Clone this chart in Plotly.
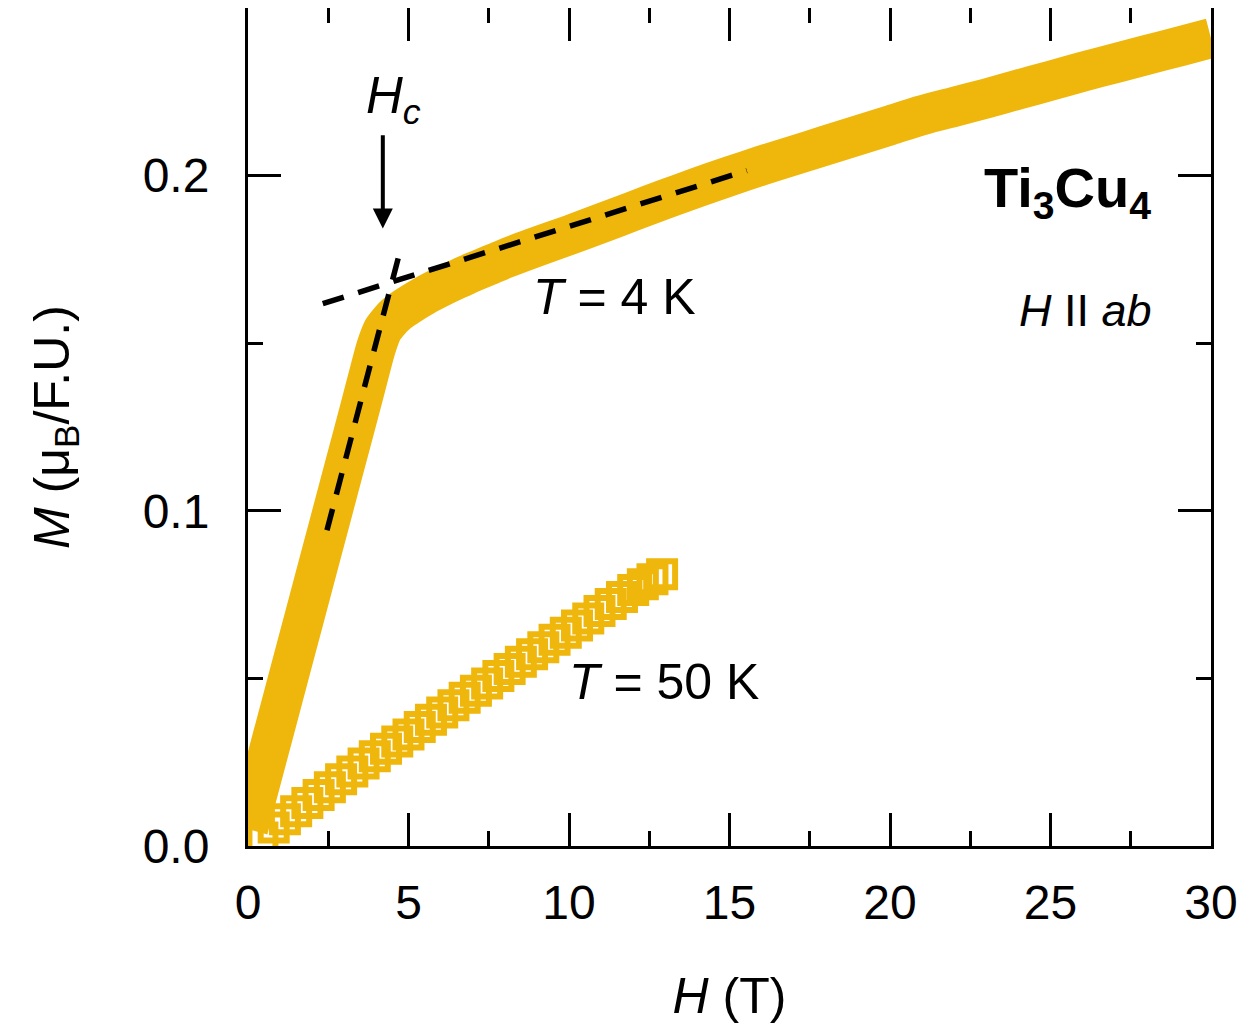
import plotly.graph_objects as go

# T = 4 K (dense data, drawn as a thick band)
h_4k = [0.0, 0.5, 1.0, 1.5, 2.0, 2.5, 3.0, 3.5, 3.8, 4.0, 4.2, 4.4, 4.6, 4.8, 5.0,
        5.5, 6.0, 6.5, 7.0, 7.5, 8.0, 9.0, 10.0, 11.0, 12.0, 13.0, 14.0, 15.0,
        16.0, 17.0, 18.0, 19.0, 20.0, 21.0, 22.0, 23.0, 24.0, 25.0, 26.0, 27.0,
        28.0, 29.0, 30.0]
m_4k = [0.005, 0.023, 0.041, 0.059, 0.077, 0.095, 0.113, 0.131, 0.142, 0.149,
        0.154, 0.1565, 0.1585, 0.160, 0.1613, 0.1642, 0.1667, 0.1690, 0.1712,
        0.1732, 0.1752, 0.1788, 0.1822, 0.1858, 0.1894, 0.1930, 0.1965, 0.1998,
        0.2030, 0.2060, 0.2090, 0.2120, 0.2150, 0.2180, 0.2205, 0.2230, 0.2257,
        0.2283, 0.2310, 0.2335, 0.2360, 0.2385, 0.2410]

# T = 50 K (open squares)
h_50k = [0.45, 0.80, 1.15, 1.50, 1.85, 2.20, 2.55, 2.90, 3.25, 3.60, 3.95, 4.30,
         4.65, 5.00, 5.35, 5.70, 6.05, 6.40, 6.75, 7.10, 7.45, 7.80, 8.15, 8.50,
         8.85, 9.20, 9.55, 9.90, 10.25, 10.60, 10.95, 11.30, 11.65, 12.00, 12.30,
         12.60, 12.90]
m_50k = [0.0025, 0.0055, 0.0080, 0.0104, 0.0128, 0.0152, 0.0175, 0.0199, 0.0222,
         0.0246, 0.0268, 0.0290, 0.0312, 0.0333, 0.0355, 0.0377, 0.0398, 0.0420,
         0.0442, 0.0463, 0.0485, 0.0507, 0.0528, 0.0550, 0.0572, 0.0593, 0.0615,
         0.0636, 0.0658, 0.0679, 0.0701, 0.0722, 0.0743, 0.0764, 0.0781, 0.0796,
         0.0811]

# guide lines for Hc
steep_h = [2.46, 4.79]
steep_m = [0.0942, 0.1794]
flat_h = [2.33, 15.54]
flat_m = [0.1618, 0.2015]

x_ticks = [0, 5, 10, 15, 20, 25, 30]
y_ticks = [0.0, 0.1, 0.2]

gold = "#EFB70C"
font = "Arial, Liberation Sans, sans-serif"

fig = go.Figure()

fig.add_trace(go.Scatter(x=h_4k, y=m_4k, mode="lines",
                         line=dict(color=gold, width=40, shape="spline", smoothing=0.8),
                         showlegend=False))
fig.add_trace(go.Scatter(x=h_50k, y=m_50k, mode="markers",
                         marker=dict(symbol="square-open", size=26, color=gold,
                                     line=dict(color=gold, width=6)),
                         showlegend=False))
fig.add_trace(go.Scatter(x=steep_h, y=steep_m, mode="lines",
                         line=dict(color="black", width=5.5, dash="22px,15px"),
                         showlegend=False))
fig.add_trace(go.Scatter(x=flat_h, y=flat_m, mode="lines",
                         line=dict(color="black", width=5.5, dash="22px,15px"),
                         showlegend=False))

axis_common = dict(showline=True, linecolor="black", linewidth=3, mirror="ticks",
                   ticks="inside", ticklen=33, tickwidth=3, tickcolor="black",
                   showgrid=False, zeroline=False,
                   tickfont=dict(family=font, size=48, color="black"))

fig.update_xaxes(range=[0, 30], tickvals=x_ticks, ticklabelstandoff=12,
                 minor=dict(dtick=2.5, ticks="inside", ticklen=15, tickwidth=3,
                            tickcolor="black", showgrid=False),
                 title=dict(text="<i>H</i> (T)", standoff=51,
                            font=dict(family=font, size=50, color="black")),
                 **axis_common)
fig.update_yaxes(range=[0, 0.25], tickvals=y_ticks, tickformat=".1f",
                 ticklabelstandoff=26,
                 minor=dict(dtick=0.05, ticks="inside", ticklen=15, tickwidth=3,
                            tickcolor="black", showgrid=False),
                 title=dict(text="<i>M</i> (μ<sub>B</sub>/F.U.)", standoff=58,
                            font=dict(family=font, size=50, color="black")),
                 **axis_common)

ann_font = dict(family=font, size=50, color="black")
fig.add_annotation(x=11.41, y=0.1638, text="<i>T</i> = 4 K", showarrow=False,
                   font=ann_font)
fig.add_annotation(x=12.95, y=0.049, text="<i>T</i> = 50 K", showarrow=False,
                   font=ann_font)
fig.add_annotation(x=26.1, y=0.1598, text="<i>H</i> II <i>ab</i>", showarrow=False,
                   font=dict(family=font, size=45, color="black"))
fig.add_annotation(x=25.54, y=0.1953, text="<b>Ti<sub>3</sub>Cu<sub>4</sub></b>",
                   showarrow=False, font=dict(family=font, size=56, color="black"))
fig.add_annotation(x=4.53, y=0.2226, text="<i>H<sub>c</sub></i>", showarrow=False,
                   font=dict(family=font, size=51, color="black"))
fig.add_annotation(x=4.2, y=0.1842, ax=4.2, ay=0.2125, axref="x", ayref="y",
                   xref="x", yref="y", text="", showarrow=True, arrowhead=2,
                   arrowsize=1, arrowwidth=4, arrowcolor="black")

fig.update_layout(width=1247, height=1035, plot_bgcolor="white",
                  paper_bgcolor="white",
                  margin=dict(l=240, r=44, t=0, b=197, autoexpand=False))

fig.write_html("out.html")
